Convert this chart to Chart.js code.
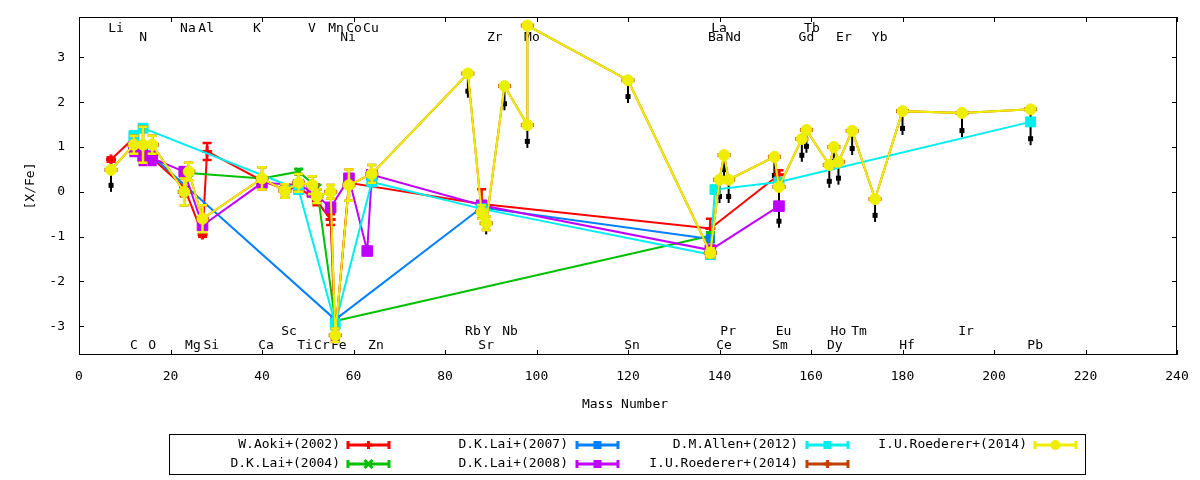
<!DOCTYPE html>
<html>
<head>
<meta charset="utf-8">
<script src="https://cdn.jsdelivr.net/npm/chart.js@4.4.1/dist/chart.umd.min.js"></script>
<style>
  html, body { margin: 0; padding: 0; background: #fff; }
  #wrap { width: 1200px; height: 480px; }
</style>
</head>
<body>
<div id="wrap"><canvas id="chart" width="1200" height="480"></canvas></div>
<script>
// ---- data ----
const xTicks = [0, 20, 40, 60, 80, 100, 120, 140, 160, 180, 200, 220, 240];
const yTicks = [-3, -2, -1, 0, 1, 2, 3];

// W.Aoki+(2002)
const aokiMass = [7, 12, 16, 23, 27, 28, 40, 45, 48, 52, 55, 56, 59, 88, 138, 153];
const aokiVal  = [0.72, 1.2, 0.75, 0.1, -0.95, 0.9, 0.25, 0.05, 0.1, -0.2, -0.62, -3.25, 0.2, -0.27, -0.82, 0.38];
const aokiErr  = [0.05, 0.1, 0.1, 0.2, 0.05, 0.19, 0.1, 0.1, 0.1, 0.1, 0.12, 0.05, 0.1, 0.33, 0.22, 0.1];

// D.K.Lai+(2004)
const lai04Mass = [24, 40, 48, 52, 56, 138];
const lai04Val  = [0.42, 0.3, 0.45, 0.1, -2.88, -0.98];
const lai04Err  = [0.05, 0.05, 0.06, 0.05, 0.05, 0.08];

// D.K.Lai+(2007)
const lai07Mass = [12, 14, 16, 56, 88, 138];
const lai07Val  = [0.95, 0.9, 0.8, -2.85, -0.35, -1.05];
const lai07Err  = [0.05, 0.05, 0.05, 0.05, 0.05, 0.05];

// D.K.Lai+(2008)
const lai08Mass = [12, 14, 16, 23, 27, 40, 48, 51, 55, 59, 63, 64, 88, 138, 153];
const lai08Val  = [1.0, 0.8, 0.75, 0.45, -0.75, 0.2, 0.15, 0.0, -0.35, 0.3, -1.32, 0.38, -0.3, -1.3, -0.32];
const lai08Err  = [0.2, 0.2, 0.15, 0.1, 0.15, 0.1, 0.1, 0.1, 0.1, 0.1, 0.08, 0.05, 0.05, 0.05, 0.05];

// D.M.Allen+(2012)
const allenMass = [12, 14, 48, 56, 64, 88, 138, 139, 153, 208];
const allenVal  = [1.25, 1.42, 0.05, -2.95, 0.22, -0.38, -1.4, 0.05, 0.22, 1.56];
const allenErr  = [0.1, 0.06, 0.05, 0.12, 0.05, 0.05, 0.05, 0.05, 0.05, 0.05];

// I.U.Roederer+(2014)
const roedMass = [7, 12, 14, 16, 23, 24, 27, 40, 45, 48, 51, 52, 55, 56, 59, 64,
                  85, 88, 89, 93, 98, 98, 120, 138, 140, 141, 142, 152, 153,
                  158, 159, 164, 165, 166, 169, 174, 180, 193, 208];
const roedVal  = [0.49, 1.05, 1.05, 1.05, 0.0, 0.45, -0.6, 0.3, 0.02, 0.2, 0.15, -0.1, 0.0, -3.2, 0.15, 0.4,
                  2.64, -0.45, -0.7, 2.36, 1.49, 3.71, 2.49, -1.36, 0.27, 0.82, 0.27, 0.78, 0.11,
                  1.18, 1.38, 0.6, 1.0, 0.67, 1.36, -0.16, 1.8, 1.76, 1.84];
const roedErr  = [0, 0.2, 0.4, 0.2, 0.3, 0.2, 0.3, 0.25, 0.15, 0.2, 0.2, 0.15, 0.15, 0.15, 0.35, 0.2,
                  0, 0.15, 0.15, 0, 0, 0, 0, 0.1, 0, 0, 0, 0, 0,
                  0, 0, 0, 0, 0, 0, 0, 0, 0, 0];
// upper-limit arrows: value the arrow points down to (null = none)
const roedLimit = [0.0, null, null, null, null, null, null, null, null, null, null, null, null, null, null, null,
                   2.1, null, -0.95, 1.82, 0.98, null, 1.98, null, -0.25, 0.35, -0.25, 0.22, -0.8,
                   0.67, 0.87, 0.09, 0.53, 0.16, 0.82, -0.67, 1.27, 1.22, 1.04];

// element labels
const topRow1  = ['Li', 'Na', 'Al', 'K', 'V', 'Mn', 'Co', 'Cu', 'La', 'Tb'];
const topRow1X = [8.1, 23.8, 27.8, 38.9, 50.9, 56.2, 60.1, 63.8, 139.9, 160.2];
const topRow2  = ['N', 'Ni', 'Zr', 'Mo', 'Ba', 'Nd', 'Gd', 'Er', 'Yb'];
const topRow2X = [14, 58.8, 90.9, 99, 139.2, 143, 159, 167.2, 175];
const botRow1  = ['Sc', 'Rb', 'Y', 'Nb', 'Pr', 'Eu', 'Ho', 'Tm', 'Ir'];
const botRow1X = [45.9, 86.1, 89.2, 94.2, 141.9, 154, 166, 170.5, 193.9];
const botRow2  = ['C', 'O', 'Mg', 'Si', 'Ca', 'Ti', 'Cr', 'Fe', 'Zn', 'Sr', 'Sn', 'Ce', 'Sm', 'Dy', 'Hf', 'Pb'];
const botRow2X = [12, 16, 24.9, 28.9, 40.9, 49.4, 53.1, 56.8, 64.9, 89, 120.9, 141, 153.2, 165.2, 181, 209];
const labelRowY = [3.65, 3.45, -3.12, -3.43];

const FONT = '13px "DejaVu Sans Mono"';

const pts = (m, v) => m.map((x, i) => ({ x: x, y: v[i] }));

function series(label, mass, val, err, color, style, radius, bw, order) {
  return {
    label: label,
    data: pts(mass, val),
    errs: err,
    borderColor: color,
    backgroundColor: color,
    borderWidth: 2,
    pointStyle: style,
    pointRadius: radius,
    pointHoverRadius: radius,
    pointBorderWidth: bw,
    tension: 0,
    fill: false,
    order: order
  };
}

const datasets = [
  series('W.Aoki+(2002)', aokiMass, aokiVal, aokiErr, '#ff0000', 'cross', 5, 3, 6),
  series('D.K.Lai+(2004)', lai04Mass, lai04Val, lai04Err, '#00c000', 'crossRot', 5, 3, 5),
  series('D.K.Lai+(2007)', lai07Mass, lai07Val, lai07Err, '#0080ff', 'rect', 6, 1, 4),
  series('D.K.Lai+(2008)', lai08Mass, lai08Val, lai08Err, '#c000ff', 'rect', 7.5, 1, 3),
  series('D.M.Allen+(2012)', allenMass, allenVal, allenErr, '#00eeee', 'rect', 7, 1, 2),
  series('I.U.Roederer+(2014)', roedMass, roedVal, roedErr, '#c04000', 'line', 6.5, 4, 1),
  series('I.U.Roederer+(2014)', roedMass, roedVal, roedErr, '#eeee00', 'circle', 5.5, 1, 0)
];

function marker(ctx, style, x, y, r, color) {
  ctx.save();
  ctx.fillStyle = color; ctx.strokeStyle = color; ctx.lineWidth = 3;
  ctx.beginPath();
  if (style === 'cross') {
    ctx.moveTo(x - r, y); ctx.lineTo(x + r, y); ctx.moveTo(x, y - r); ctx.lineTo(x, y + r); ctx.stroke();
  } else if (style === 'crossRot') {
    ctx.moveTo(x - r, y - r); ctx.lineTo(x + r, y + r); ctx.moveTo(x + r, y - r); ctx.lineTo(x - r, y + r); ctx.stroke();
  } else if (style === 'rect') {
    ctx.fillRect(x - r, y - r, 2 * r, 2 * r);
  } else {
    ctx.arc(x, y, r, 0, Math.PI * 2); ctx.fill();
  }
  ctx.restore();
}

const decor = {
  id: 'decor',
  beforeDatasetsDraw(chart) {
    const { ctx, scales: { x, y } } = chart;
    ctx.save();
    ctx.font = FONT; ctx.fillStyle = '#000';
    ctx.textAlign = 'center'; ctx.textBaseline = 'middle';
    [[topRow1, topRow1X], [topRow2, topRow2X], [botRow1, botRow1X], [botRow2, botRow2X]].forEach((row, r) => {
      row[0].forEach((n, i) => ctx.fillText(n, x.getPixelForValue(row[1][i]), y.getPixelForValue(labelRowY[r])));
    });
    // upper limit arrows
    ctx.strokeStyle = '#000'; ctx.lineWidth = 2;
    roedMass.forEach((m, i) => {
      const lim = roedLimit[i];
      if (lim === null) return;
      const px = x.getPixelForValue(m);
      const y0 = y.getPixelForValue(roedVal[i]);
      const y1 = y.getPixelForValue(lim);
      ctx.beginPath(); ctx.moveTo(px, y0); ctx.lineTo(px, y1); ctx.stroke();
      ctx.fillRect(px - 2.5, y1 - 9, 5, 5);
    });
    ctx.restore();
  },
  beforeDatasetDraw(chart, args) {
    const ds = chart.data.datasets[args.index];
    if (!ds.errs) return;
    const { ctx, scales: { x, y } } = chart;
    ctx.save();
    ctx.strokeStyle = ds.borderColor; ctx.lineWidth = 2.5;
    ds.data.forEach((p, i) => {
      const e = ds.errs[i];
      if (!e) return;
      const px = x.getPixelForValue(p.x);
      const ya = y.getPixelForValue(p.y - e), yb = y.getPixelForValue(p.y + e);
      ctx.beginPath();
      ctx.moveTo(px, ya); ctx.lineTo(px, yb);
      ctx.moveTo(px - 4.5, ya); ctx.lineTo(px + 4.5, ya);
      ctx.moveTo(px - 4.5, yb); ctx.lineTo(px + 4.5, yb);
      ctx.stroke();
    });
    ctx.restore();
  },
  afterDraw(chart) {
    const { ctx, chartArea: a, scales: { x, y } } = chart;
    ctx.save();
    ctx.strokeStyle = '#000'; ctx.lineWidth = 1;
    ctx.strokeRect(a.left + 0.5, a.top + 0.5, a.right - a.left - 1, a.bottom - a.top - 1);
    ctx.beginPath();
    xTicks.forEach(v => {
      const px = Math.round(x.getPixelForValue(v)) + 0.5;
      ctx.moveTo(px, a.bottom); ctx.lineTo(px, a.bottom - 5);
      ctx.moveTo(px, a.top); ctx.lineTo(px, a.top + 5);
    });
    yTicks.forEach(v => {
      const py = Math.round(y.getPixelForValue(v)) + 0.5;
      ctx.moveTo(a.left, py); ctx.lineTo(a.left + 5, py);
      ctx.moveTo(a.right, py); ctx.lineTo(a.right - 5, py);
    });
    ctx.stroke();

    // axis titles
    ctx.font = FONT; ctx.fillStyle = '#000';
    ctx.textAlign = 'center'; ctx.textBaseline = 'middle';
    ctx.fillText('Mass Number', 625, 405);
    ctx.save();
    ctx.translate(31, 186); ctx.rotate(-Math.PI / 2);
    ctx.fillText('[X/Fe]', 0, 0);
    ctx.restore();

    // legend
    ctx.strokeRect(169.5, 434.5, 916, 40);
    const textRight = [340, 568, 798, 1027];
    const sampleX = [347, 576, 806, 1034];
    const rowY = [445, 464];
    chart.data.datasets.forEach((ds, i) => {
      const c = Math.floor(i / 2), r = i % 2;
      const ty = rowY[r];
      ctx.textAlign = 'right'; ctx.fillStyle = '#000';
      ctx.fillText(ds.label, textRight[c], ty);
      const x0 = sampleX[c], x1 = x0 + 43;
      ctx.strokeStyle = ds.borderColor; ctx.lineWidth = 3;
      ctx.beginPath();
      ctx.moveTo(x0, ty); ctx.lineTo(x1, ty);
      ctx.moveTo(x0 + 1, ty - 4); ctx.lineTo(x0 + 1, ty + 4);
      ctx.moveTo(x1 - 1, ty - 4); ctx.lineTo(x1 - 1, ty + 4);
      ctx.stroke();
      const st = ds.pointStyle === 'line' ? 'cross' : ds.pointStyle;
      marker(ctx, st, (x0 + x1) / 2, ty, st === 'circle' ? 5 : 4, ds.borderColor);
    });
    ctx.restore();
  }
};

Chart.defaults.color = '#000';
Chart.defaults.font.family = '"DejaVu Sans Mono"';
Chart.defaults.font.size = 13;

new Chart(document.getElementById('chart'), {
  type: 'line',
  data: { datasets: datasets },
  options: {
    responsive: false,
    animation: false,
    devicePixelRatio: 1,
    events: [],
    layout: { padding: { top: 17, right: 23, left: 0, bottom: 0 } },
    plugins: { legend: { display: false }, tooltip: { enabled: false } },
    scales: {
      x: {
        type: 'linear', min: 0, max: 240,
        grid: { display: false, drawTicks: false },
        border: { display: false },
        ticks: { stepSize: 20, padding: 14, maxRotation: 0 },
        afterBuildTicks: s => { s.ticks = xTicks.map(v => ({ value: v })); },
        afterFit: s => { s.height = 125; s.paddingLeft = 0; s.paddingRight = 0; }
      },
      y: {
        type: 'linear', min: -3.64, max: 3.9,
        grid: { display: false, drawTicks: false },
        border: { display: false },
        ticks: { padding: 14 },
        afterBuildTicks: s => { s.ticks = yTicks.map(v => ({ value: v })); },
        afterFit: s => { s.width = 79; s.paddingTop = 0; s.paddingBottom = 0; }
      }
    }
  },
  plugins: [decor]
});
</script>
</body>
</html>
